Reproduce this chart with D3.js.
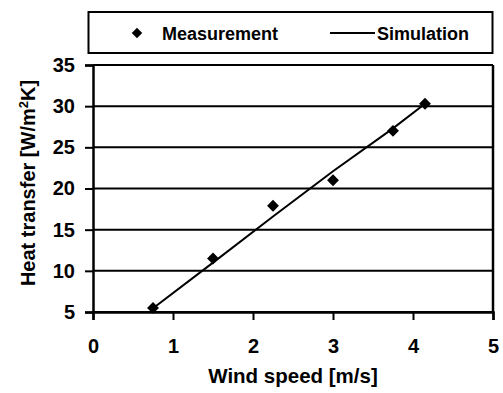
<!DOCTYPE html>
<html>
<head>
<meta charset="utf-8">
<script src="https://cdn.jsdelivr.net/npm/d3@7"></script>
<style>
  html, body { margin: 0; padding: 0; background: #fff; }
  text { font-family: "Liberation Sans", Arial, sans-serif; font-weight: bold; fill: #000; }
</style>
</head>
<body>
<svg id="chart" width="503" height="393"></svg>
<script>
// Measured heat transfer coefficient vs wind speed
const measWind = [0.75, 1.5, 2.25, 3.0, 3.75, 4.15];
const measHeat = [5.5, 11.5, 17.9, 21.0, 27.0, 30.3];

// Simulated curve
const simWind = [0.73, 1.5, 2.25, 3.0, 3.75, 4.15];
const simHeat = [5.3, 11.0, 16.6, 22.1, 27.3, 30.3];

const xTicks = [0, 1, 2, 3, 4, 5];
const yTicks = [5, 10, 15, 20, 25, 30, 35];

const seriesNames = ["Measurement", "Simulation"];

const svg = d3.select("#chart");
const plot = { left: 93, right: 493, top: 65, bottom: 312 };

const x = d3.scaleLinear().domain([0, 5]).range([plot.left, plot.right]);
const y = d3.scaleLinear().domain([5, 35]).range([plot.bottom, plot.top]);

// Horizontal gridlines
svg.append("g")
  .selectAll("line")
  .data(yTicks)
  .join("line")
  .attr("x1", plot.left).attr("x2", plot.right)
  .attr("y1", d => y(d)).attr("y2", d => y(d))
  .attr("stroke", "#000").attr("stroke-width", 2);

// Right border of the plot area
svg.append("line")
  .attr("x1", plot.right).attr("x2", plot.right)
  .attr("y1", plot.top).attr("y2", plot.bottom)
  .attr("stroke", "#000").attr("stroke-width", 2.5);

// Y axis
const yAxis = svg.append("g")
  .attr("transform", `translate(${plot.left},0)`)
  .call(d3.axisLeft(y).tickValues(yTicks).tickSize(8).tickPadding(10).tickFormat(d3.format("d")));
yAxis.select(".domain").attr("stroke", "#000").attr("stroke-width", 2.5);
yAxis.selectAll(".tick line").attr("stroke", "#000").attr("stroke-width", 2);
yAxis.selectAll("text").style("font-size", "20px").attr("fill", "#000");

// X axis
const xAxis = svg.append("g")
  .attr("transform", `translate(0,${plot.bottom})`)
  .call(d3.axisBottom(x).tickValues(xTicks).tickSize(8).tickPadding(19).tickFormat(d3.format("d")));
xAxis.select(".domain").attr("stroke", "#000").attr("stroke-width", 2.5);
xAxis.selectAll(".tick line").attr("stroke", "#000").attr("stroke-width", 2);
xAxis.selectAll("text").style("font-size", "20px").attr("fill", "#000");

// Axis titles
svg.append("text")
  .attr("x", (plot.left + plot.right) / 2).attr("y", 383)
  .attr("text-anchor", "middle")
  .style("font-size", "20.5px")
  .text("Wind speed [m/s]");

const yTitle = svg.append("text")
  .attr("transform", `translate(35,${(78 + 288) / 2}) rotate(-90)`)
  .attr("text-anchor", "middle")
  .style("font-size", "20px");
yTitle.append("tspan").text("Heat transfer [W/m");
yTitle.append("tspan").attr("dy", -7).style("font-size", "13px").text("2");
yTitle.append("tspan").attr("dy", 7).text("K]");

// Simulation line
const simData = simWind.map((w, i) => [w, simHeat[i]]);
svg.append("path")
  .datum(simData)
  .attr("fill", "none")
  .attr("stroke", "#000")
  .attr("stroke-width", 2)
  .attr("d", d3.line().x(d => x(d[0])).y(d => y(d[1])));

// Measurement markers
const diamond = d3.symbol().type(d3.symbolDiamond2).size(90);
const measData = measWind.map((w, i) => [w, measHeat[i]]);
svg.append("g")
  .selectAll("path")
  .data(measData)
  .join("path")
  .attr("transform", d => `translate(${x(d[0])},${y(d[1])})`)
  .attr("d", diamond)
  .attr("fill", "#000");

// Legend
const legend = svg.append("g");
legend.append("rect")
  .attr("x", 88.5).attr("y", 12).attr("width", 404).attr("height", 41)
  .attr("fill", "#fff").attr("stroke", "#000").attr("stroke-width", 2);
legend.append("path")
  .attr("transform", "translate(137,33)")
  .attr("d", d3.symbol().type(d3.symbolDiamond2).size(70))
  .attr("fill", "#000");
legend.append("text")
  .attr("x", 162).attr("y", 40)
  .style("font-size", "18px")
  .text(seriesNames[0]);
legend.append("line")
  .attr("x1", 330).attr("x2", 375).attr("y1", 33).attr("y2", 33)
  .attr("stroke", "#000").attr("stroke-width", 2);
legend.append("text")
  .attr("x", 377).attr("y", 40)
  .style("font-size", "18px")
  .text(seriesNames[1]);
</script>
</body>
</html>
